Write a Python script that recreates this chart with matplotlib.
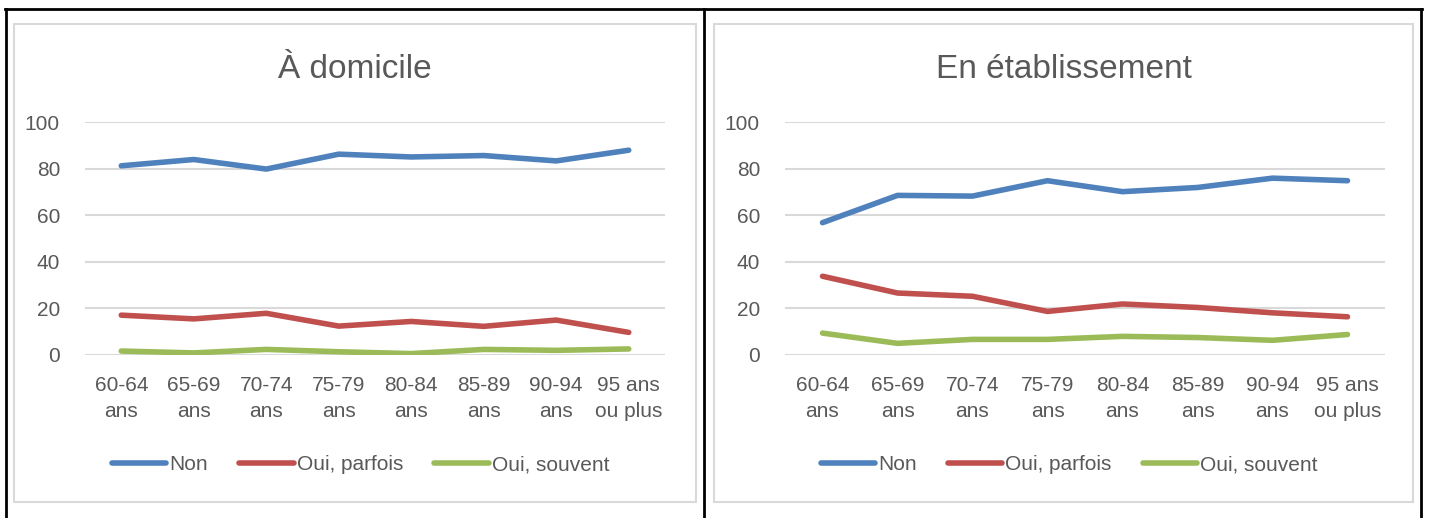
import matplotlib

matplotlib.use("Agg")
import matplotlib.pyplot as plt
from matplotlib.lines import Line2D
from matplotlib.patches import Rectangle

plt.rcParams["font.family"] = ["Liberation Sans", "DejaVu Sans"]

# data
categories = ["60-64\nans", "65-69\nans", "70-74\nans", "75-79\nans",
              "80-84\nans", "85-89\nans", "90-94\nans", "95 ans\nou plus"]
series_names = ["Non", "Oui, parfois", "Oui, souvent"]

domicile_non = [81.2, 83.9, 79.8, 86.2, 85.0, 85.6, 83.3, 87.9]
domicile_parfois = [17.1, 15.5, 17.9, 12.4, 14.4, 12.3, 15.0, 9.7]
domicile_souvent = [1.7, 0.9, 2.4, 1.4, 0.6, 2.4, 2.0, 2.6]

etab_non = [56.8, 68.5, 68.2, 74.8, 70.1, 71.9, 75.9, 74.8]
etab_parfois = [33.8, 26.6, 25.2, 18.7, 21.9, 20.4, 18.1, 16.4]
etab_souvent = [9.4, 5.0, 6.7, 6.7, 8.0, 7.5, 6.3, 8.8]

titles = ["À domicile", "En établissement"]
colors = ["#4F81BD", "#C0504D", "#9BBB59"]
TXT = "#595959"
GRID = "#D9D9D9"
FS = 15

W, H = 1429, 518
fig = plt.figure(figsize=(W / 100, H / 100), dpi=100)


def fx(px):
    return px / W


def fy(py):
    return 1 - py / H


# table frame (black)
for x in (6, 704, 1421):
    fig.add_artist(Line2D([fx(x), fx(x)], [fy(9), 0], color="black", lw=2.0))
fig.add_artist(Line2D([fx(5), fx(1422)], [fy(9), fy(9)], color="black", lw=2.0))

# chart boxes, plot areas
boxes = [(14, 24, 696, 502), (714, 24, 1413, 502)]
plot_x = [(85, 665), (785, 1385)]
panels = [
    (domicile_non, domicile_parfois, domicile_souvent),
    (etab_non, etab_parfois, etab_souvent),
]

for i in range(2):
    x0, y0, x1, y1 = boxes[i]
    fig.add_artist(Rectangle((fx(x0), fy(y1)), fx(x1 - x0), (y1 - y0) / H,
                             fill=False, edgecolor=GRID, lw=1.5))
    px0, px1 = plot_x[i]
    ax = fig.add_axes([fx(px0), fy(355), fx(px1 - px0), (355 - 122) / H])
    xs = range(len(categories))
    for vals, c, name in zip(panels[i], colors, series_names):
        ax.plot(xs, vals, color=c, lw=4, solid_capstyle="round", label=name, zorder=3)
    ax.set_xlim(-0.5, len(categories) - 0.5)
    ax.set_ylim(0, 100)
    ax.set_yticks(range(0, 101, 20))
    ax.set_xticks(list(xs))
    ax.set_xticklabels(categories, linespacing=1.5)
    ax.tick_params(length=0, labelsize=FS, colors=TXT)
    ax.tick_params(axis="y", pad=18)
    ax.tick_params(axis="x", pad=15)
    ax.grid(axis="y", color=GRID, lw=1.5)
    ax.set_axisbelow(True)
    for s in ax.spines.values():
        s.set_visible(False)
    ax.patch.set_alpha(0)

    cx = fx((x0 + x1) / 2)
    fig.text(cx, fy(70), titles[i], ha="center", va="center", fontsize=24, color=TXT)
    fig.legend(*ax.get_legend_handles_labels(), loc="center", bbox_to_anchor=(cx + 0.004, fy(465)),
               ncol=3, frameon=False, fontsize=FS, labelcolor=TXT,
               handlelength=2.6, handletextpad=0.15, columnspacing=1.5)

fig.savefig("out.png", dpi=100, facecolor="white")
